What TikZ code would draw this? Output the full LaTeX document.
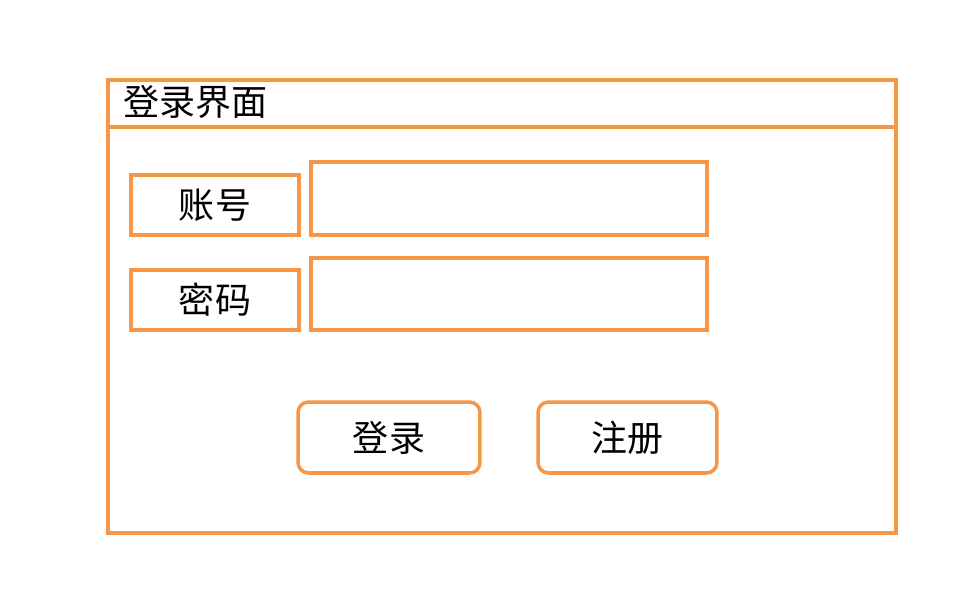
\documentclass[tikz,border=0pt]{standalone}
\usepackage{fontspec}
\setmainfont{Noto Sans CJK SC}
\usepackage{tikz}
\usetikzlibrary{positioning}
\usepackage{xcolor}
\definecolor{uiorange}{HTML}{F79646}
\tikzset{
  pane/.style={draw=uiorange, line width=2pt, fill=white, inner sep=0pt},
  lbl/.style={pane, minimum width=3.36cm, minimum height=1.2cm},
  field/.style={pane, minimum width=7.92cm},
  btn/.style={pane, rounded corners=6pt, minimum height=1.42cm},
}

\begin{document}
\begin{tikzpicture}[x=0.02cm, y=-0.02cm, font=\fontsize{20.5pt}{24pt}\selectfont]
    \useasboundingbox (0,0) rectangle (957,606);
    \node[pane, minimum width=15.76cm, minimum height=0.94cm] (titlebar) at (502,103.5) {};
    \node[pane, minimum width=15.76cm, minimum height=8.12cm] (body) at (502,330) {};
    \node[anchor=west, inner sep=0pt] (title) at (123,102) {登录界面};
    \node[lbl] (user) at (215,205) {账号};
    \node[field, minimum height=1.46cm] (userin) at (509,198.5) {};
    \node[lbl] (pwd) at (215,300) {密码};
    \node[field, minimum height=1.44cm] (pwdin) at (509,294) {};
    \node[btn, minimum width=3.64cm] (login) at (389,437.5) {登录};
    \node[btn, minimum width=3.58cm] (reg) at (627.5,437.5) {注册};
  \end{tikzpicture}
\end{document}
